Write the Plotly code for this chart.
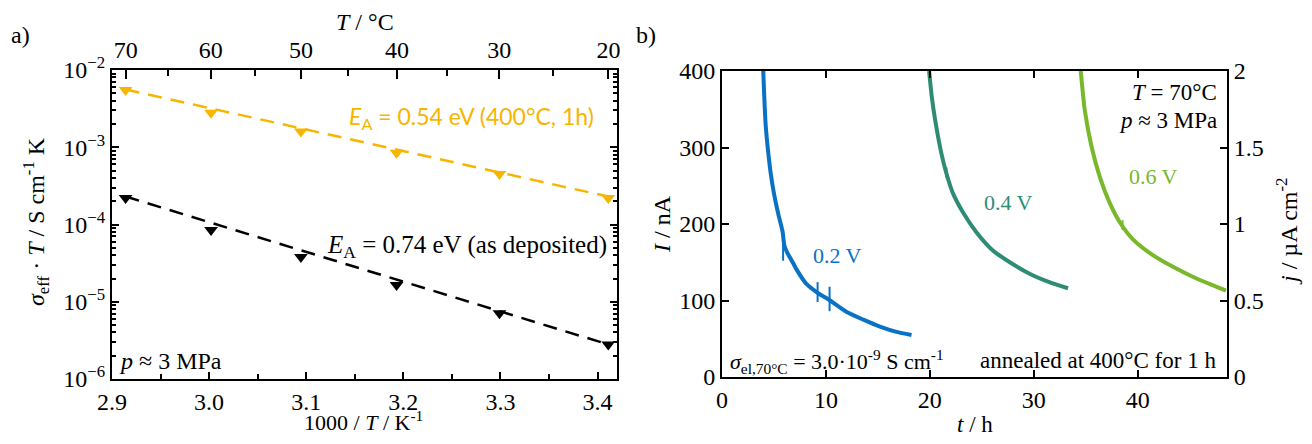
import plotly.graph_objects as go

# ---------------- data: panel a ----------------
inv_T = [2.914, 3.002, 3.0945, 3.193, 3.299, 3.411]          # 1000/T, K^-1
sigma_annealed = [5.5e-3, 2.8e-3, 1.6e-3, 8.5e-4, 4.5e-4, 2.2e-4]
sigma_deposited = [2.2e-4, 8.5e-5, 3.8e-5, 1.65e-5, 7.1e-6, 2.8e-6]
fit_x = [2.914, 3.411]
fit_annealed = [5.6e-3, 2.3e-4]
fit_deposited = [2.3e-4, 2.8e-6]
top_T_labels = [70, 60, 50, 40, 30, 20]
top_T_minor = [65, 55, 45, 35, 25]
y_decades = [1e-6, 1e-5, 1e-4, 1e-3, 1e-2]
y_decade_labels = ["10<sup>−6</sup>", "10<sup>−5</sup>", "10<sup>−4</sup>", "10<sup>−3</sup>", "10<sup>−2</sup>"]

# ---------------- data: panel b ----------------
t_02 = [3.97, 4.05, 4.2, 4.4, 4.7, 5.0, 5.4, 5.83, 6.0, 6.3, 6.8, 7.2, 8.1, 9.2, 10.4, 12.0, 13.6, 15.2, 16.8, 18.24]
I_02 = [400, 372, 330, 300, 265, 240, 214, 190, 172, 162, 150, 140, 122, 110, 100, 85, 75, 66, 59, 55]
t_04 = [19.93, 20.2, 20.5, 21.1, 21.6, 22.2, 23.2, 24.5, 26.1, 27.7, 29.6, 31.5, 33.3]
I_04 = [400, 365, 337, 293, 266, 241, 215, 189, 165, 150, 135, 124, 116]
t_06 = [34.52, 34.7, 34.9, 35.55, 36.35, 37.3, 38.3, 39.55, 41.5, 43.4, 45.3, 47.2, 48.5]
I_06 = [400, 375, 350, 302, 262, 228, 202, 180, 159, 144, 131, 120, 113]
# short vertical glitches in the measured current: (t, I_low, I_high)
spikes_02 = [(4.13, 348, 362), (5.88, 152, 188), (9.2, 98, 124), (10.35, 86, 118)]
spikes_04 = [(21.6, 260, 274)]
spikes_06 = [(38.55, 192, 205)]

ORANGE = "#F7B500"
BLUE = "#0A72C4"
TEAL = "#2E8C74"
GREEN = "#78B82A"
SERIF = "Liberation Serif"
SANS = "Lato"

fig = go.Figure()

# panel a
fig.add_trace(go.Scatter(x=fit_x, y=fit_annealed, mode="lines", xaxis="x", yaxis="y",
                         line=dict(color=ORANGE, width=2.5, dash="14px,9px"), showlegend=False))
fig.add_trace(go.Scatter(x=fit_x, y=fit_deposited, mode="lines", xaxis="x", yaxis="y",
                         line=dict(color="black", width=2.5, dash="14px,9px"), showlegend=False))
fig.add_trace(go.Scatter(x=inv_T, y=sigma_annealed, mode="markers", xaxis="x", yaxis="y",
                         marker=dict(symbol="triangle-down", size=12, color=ORANGE), showlegend=False))
fig.add_trace(go.Scatter(x=inv_T, y=sigma_deposited, mode="markers", xaxis="x", yaxis="y",
                         marker=dict(symbol="triangle-down", size=12, color="black"), showlegend=False))
fig.add_trace(go.Scatter(x=[None], y=[None], xaxis="x3", yaxis="y", showlegend=False, hoverinfo="skip"))

# panel b
for t, I, sp, c in [(t_02, I_02, spikes_02, BLUE), (t_04, I_04, spikes_04, TEAL), (t_06, I_06, spikes_06, GREEN)]:
    fig.add_trace(go.Scatter(x=t, y=I, mode="lines", xaxis="x2", yaxis="y2",
                             line=dict(color=c, width=4, shape="spline", smoothing=0.6),
                             showlegend=False))
    sx, sy = [], []
    for ts, lo, hi in sp:
        sx += [ts, ts, None]
        sy += [lo, hi, None]
    fig.add_trace(go.Scatter(x=sx, y=sy, mode="lines", xaxis="x2", yaxis="y2",
                             line=dict(color=c, width=2), showlegend=False))
fig.add_trace(go.Scatter(x=[None], y=[None], xaxis="x2", yaxis="y4", showlegend=False, hoverinfo="skip"))

# page has an 8 px body margin; figure sized so the page fits the 1312x444 window
OFF = 8
W, H = 1312 - 2 * OFF, 444 - 2 * OFF
def px(x):
    return (x - OFF) / W
def py(y):
    return 1 - (y - OFF) / H

tickfont = dict(family=SERIF, size=24, color="black")
axis_common = dict(showgrid=False, zeroline=False, showline=True, linecolor="black", linewidth=2,
                   ticks="inside", tickcolor="black", tickwidth=1.5, tickfont=tickfont, automargin=False)

log_minor = [k * 10 ** e for e in range(-6, -2) for k in range(2, 10)]

fig.update_layout(
    width=W, height=H, autosize=False,
    margin=dict(l=0, r=0, t=0, b=0, pad=0),
    paper_bgcolor="white", plot_bgcolor="white",
    font=dict(family=SERIF, color="black"),
    xaxis=dict(**axis_common, domain=[px(112), px(617)], anchor="y", range=[2.9, 3.42],
               tickvals=[2.9, 3.0, 3.1, 3.2, 3.3, 3.4], ticktext=["2.9", "3.0", "3.1", "3.2", "3.3", "3.4"],
               ticklen=7, mirror=True,
               minor=dict(ticks="inside", ticklen=5, tickvals=[2.95, 3.05, 3.15, 3.25, 3.35], tickcolor="black")),
    xaxis3=dict(**axis_common, overlaying="x", side="top", anchor="y", range=[2.9, 3.42],
                tickvals=[1000 / (T + 273.15) for T in top_T_labels], ticktext=[str(T) for T in top_T_labels],
                ticklen=9,
                minor=dict(ticks="inside", ticklen=6, tickvals=[1000 / (T + 273.15) for T in top_T_minor],
                           tickcolor="black")),
    yaxis=dict(**axis_common, domain=[py(379), py(70)], anchor="x", type="log", range=[-6, -2],
               tickvals=y_decades, ticktext=y_decade_labels, ticklen=7, mirror="ticks",
               minor=dict(ticks="inside", ticklen=4, tickvals=log_minor, tickcolor="black")),
    xaxis2=dict(**axis_common, domain=[px(722), px(1227)], anchor="y2", range=[0, 48.6],
                tickvals=[0, 10, 20, 30, 40], ticklen=7, mirror="ticks"),
    yaxis2=dict(**axis_common, domain=[py(377), py(71)], anchor="x2", range=[0, 400],
                tickvals=[0, 100, 200, 300, 400], ticklen=7, mirror=True),
    yaxis4=dict(**axis_common, overlaying="y2", side="right", anchor="x2", range=[0, 2],
                tickvals=[0, 0.5, 1, 1.5, 2], ticktext=["0", "0.5", "1", "1.5", "2"], ticklen=7),
)

ann = []
def A(x, y, text, size=24, color="black", xanchor="center", yanchor="middle", angle=0, family=SERIF):
    ann.append(dict(x=px(x), y=py(y), xref="paper", yref="paper", text=text, showarrow=False,
                    font=dict(family=family, size=size, color=color), xanchor=xanchor, yanchor=yanchor,
                    textangle=angle))

A(20, 35, "a)")
A(646, 35, "b)")
A(365, 22, "<i>T</i> / °C")
A(363, 421, "1000 / <i>T</i> / K<sup>-1</sup>", size=22)
A(36, 222, "<i>σ</i><sub>eff</sub> · <i>T</i> / S cm<sup>-1</sup> K", angle=-90)
A(596, 118, "<i>E</i><sub>A</sub> = 0.54 eV (400°C, 1h)", size=23, color=ORANGE, xanchor="right", family=SANS)
A(609, 246, "<i>E</i><sub>A</sub> = 0.74 eV (as deposited)", size=25, xanchor="right")
A(117, 361, "<i>p</i> ≈ 3 MPa", size=24, xanchor="left")

A(975, 424, "<i>t</i> / h", size=23)
A(662, 224, "<i>I</i> / nA", angle=-90)
A(1287, 232, "<i>j</i> / µA cm<sup>-2</sup>", angle=-90)
A(837, 255, "0.2 V", size=22, color=BLUE)
A(1008, 202, "0.4 V", size=22, color=TEAL)
A(1153, 177, "0.6 V", size=22, color=GREEN)
A(1219, 92, "<i>T</i> = 70°C", size=23, xanchor="right")
A(1219, 120, "<i>p</i> ≈ 3 MPa", size=23, xanchor="right")
A(728, 361, "<i>σ</i><sub>el,70°C</sub> = 3.0·10<sup>-9</sup> S cm<sup>-1</sup>", size=22, xanchor="left")
A(1218, 360, "annealed at 400°C for 1 h", size=23, xanchor="right")

fig.update_layout(annotations=ann)
fig.write_html("out.html")
